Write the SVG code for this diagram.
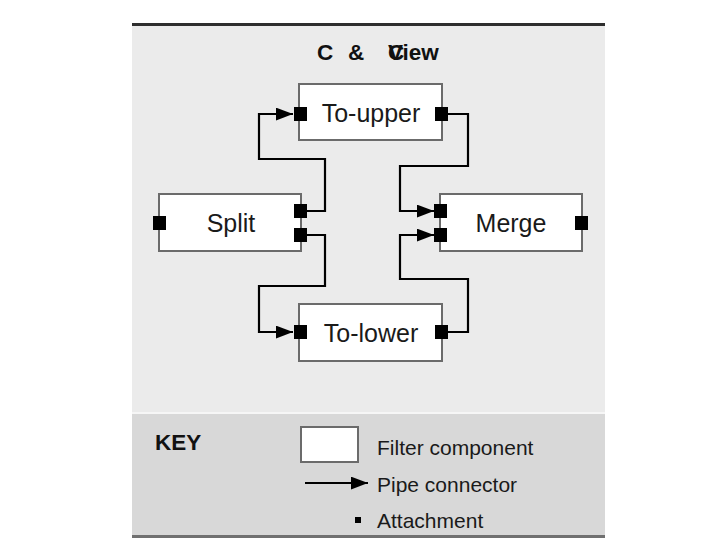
<svg xmlns="http://www.w3.org/2000/svg" width="720" height="540" viewBox="0 0 720 540">
<defs>
<style>
.box{fill:#ffffff;stroke:#6b6b6b;stroke-width:2}
.att{fill:#000000}
.pipe{fill:none;stroke:#000000;stroke-width:2.2}
.lbl{font-family:"Liberation Sans",Arial,sans-serif;font-size:25px;fill:#1a1a1a;text-anchor:middle}
.key{font-family:"Liberation Sans",Arial,sans-serif;font-size:21px;fill:#1a1a1a}
.ttl{font-family:"Liberation Sans",Arial,sans-serif;font-size:22.5px;font-weight:bold;fill:#111111}
</style>
<marker id="arr" viewBox="0 0 16 12" refX="16" refY="6" markerWidth="17" markerHeight="13" orient="auto" markerUnits="userSpaceOnUse">
<path d="M0,0 L16,6 L0,12 z" fill="#000000"/>
</marker>
</defs>
<rect width="720" height="540" fill="#ffffff"/>
<rect x="132" y="25" width="473" height="388" fill="#ebebeb"/>
<rect x="132" y="412" width="473" height="2" fill="#f6f6f6"/>
<rect x="132" y="414" width="473" height="122" fill="#d8d8d8"/>
<rect x="132" y="23" width="473" height="3" fill="#2e2e2e"/>
<rect x="132" y="535" width="473" height="3" fill="#707070"/>
<text class="ttl" x="317 348 388 388" y="60">C&amp;CView</text>

<g id="connectors">
<path class="pipe" d="M307,211 L325,211 L325,159 L259,159 L259,114 L293,114" marker-end="url(#arr)"/>
<path class="pipe" d="M307,235 L325,235 L325,286 L259,286 L259,332 L293,332" marker-end="url(#arr)"/>
<path class="pipe" d="M447,114 L468,114 L468,166 L400,166 L400,211 L434,211" marker-end="url(#arr)"/>
<path class="pipe" d="M447,332 L468,332 L468,279 L400,279 L400,235 L434,235" marker-end="url(#arr)"/>
</g>

<g id="to-upper">
<rect class="box" x="299" y="84" width="143" height="56"/>
<text class="lbl" x="371" y="122">To-upper</text>
<rect class="att" x="294" y="107" width="13" height="14"/>
<rect class="att" x="435" y="107" width="13" height="14"/>
</g>
<g id="split">
<rect class="box" x="159" y="194" width="142" height="57"/>
<text class="lbl" x="231" y="232">Split</text>
<rect class="att" x="153" y="216" width="13" height="14"/>
<rect class="att" x="294" y="204" width="13" height="14"/>
<rect class="att" x="294" y="228" width="13" height="14"/>
</g>
<g id="merge">
<rect class="box" x="440" y="194" width="142" height="57"/>
<text class="lbl" x="511" y="232">Merge</text>
<rect class="att" x="434" y="204" width="13" height="14"/>
<rect class="att" x="434" y="228" width="13" height="14"/>
<rect class="att" x="575" y="216" width="13" height="14"/>
</g>
<g id="to-lower">
<rect class="box" x="299" y="304" width="143" height="57"/>
<text class="lbl" x="371" y="342">To-lower</text>
<rect class="att" x="294" y="325" width="13" height="14"/>
<rect class="att" x="435" y="325" width="13" height="14"/>
</g>

<g id="key">
<text class="ttl" x="155" y="450">KEY</text>
<rect class="box" x="301" y="427" width="57" height="35"/>
<text class="key" x="377" y="455">Filter component</text>
<line class="pipe" x1="305" y1="483" x2="368" y2="483" marker-end="url(#arr)"/>
<text class="key" x="377" y="492">Pipe connector</text>
<rect class="att" x="355" y="517" width="6" height="6"/>
<text class="key" x="377" y="528">Attachment</text>
</g>
</svg>
